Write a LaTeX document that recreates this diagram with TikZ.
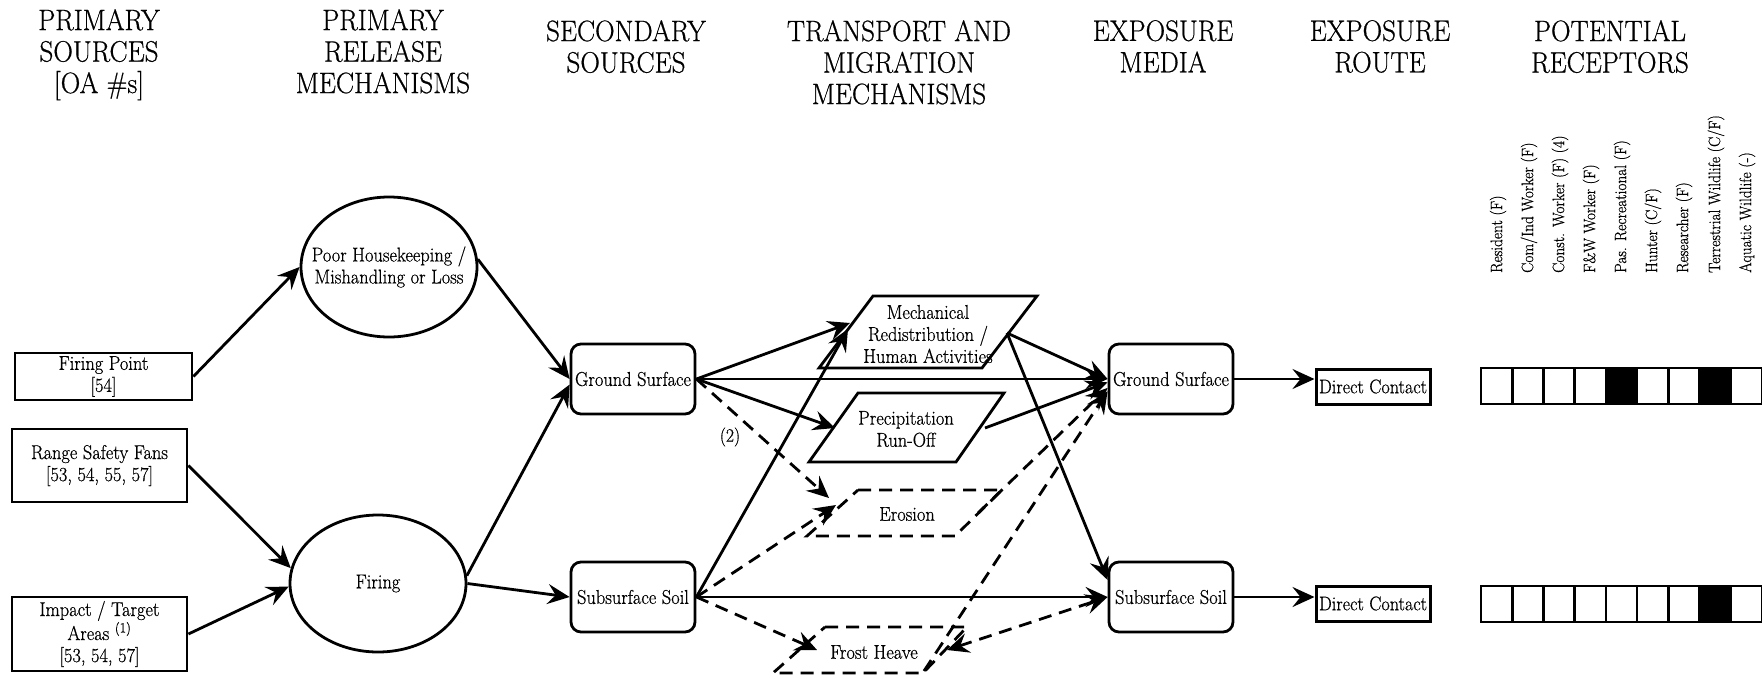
\documentclass[tikz,border=0pt]{standalone}
\usepackage{fontspec}
\setmainfont{Latin Modern Roman}[FakeStretch=0.92, FakeBold=0.6]
\usetikzlibrary{arrows.meta,shapes.geometric,calc}
\begin{document}
\begin{tikzpicture}[x=1pt,y=-1pt,
  lw/.style={line width=2.8pt},
  hdr/.style={font=\fontsize{29.5}{31.5}\selectfont, align=center, anchor=north, inner sep=0pt},
  txt/.style={font=\fontsize{20}{22}\selectfont, align=center, inner sep=0pt},
  srcbox/.style={draw, lw, txt},
  ell/.style={draw, lw, ellipse, inner sep=0pt},
  rbox/.style={draw, lw, txt, rounded corners=10pt, minimum width=124pt, minimum height=70pt},
  dcbox/.style={draw, line width=3pt, txt, font=\fontsize{19.7}{22}\selectfont, minimum width=114pt, minimum height=35pt},
  shp/.style={lw, line join=miter},
  dshp/.style={shp, dash pattern=on 13pt off 8pt},
  arr/.style={lw, -{Stealth[length=22pt,width=20pt,inset=8pt]}},
  darr/.style={arr, dash pattern=on 13pt off 8pt},
  cell/.style={draw, line width=2.6pt, minimum width=31.2pt, minimum height=36pt, inner sep=0pt},
  rlab/.style={font=\fontsize{16.6}{19}\selectfont, rotate=90, anchor=west, inner sep=0pt}
]
\useasboundingbox (0,0) rectangle (1762,678);

% headers
\node[hdr] (h1) at (99,9) {PRIMARY\\SOURCES\\{[OA \#s]}};
\node[hdr] (h2) at (383,9) {PRIMARY\\RELEASE\\MECHANISMS};
\node[hdr] (h3) at (626,20) {SECONDARY\\SOURCES};
\node[hdr] (h4) at (899,20) {TRANSPORT AND\\MIGRATION\\MECHANISMS};
\node[hdr] (h5) at (1163,20) {EXPOSURE\\MEDIA};
\node[hdr] (h6) at (1380,20) {EXPOSURE\\ROUTE};
\node[hdr] (h7) at (1610,20) {POTENTIAL\\RECEPTORS};

% primary sources
\node[srcbox, minimum width=177pt, minimum height=47pt] (fp) at (103.5,376.5) {Firing Point\\{[54]}};
\node[srcbox, minimum width=175pt, minimum height=73pt] (rsf) at (99.5,465.5) {Range Safety Fans\\{[53, 54, 55, 57]}};
\node[srcbox, minimum width=175pt, minimum height=74pt] (imp) at (99.5,634) {Impact / Target\\Areas \textsuperscript{(1)}\\{[53, 54, 57]}};

% release mechanisms
\node[ell, minimum width=176pt, minimum height=140pt] (ph) at (389,267) {};
\node[txt] (pht) at (ph) {Poor Housekeeping /\\Mishandling or Loss};
\node[ell, minimum width=176pt, minimum height=137pt] (fir) at (378,583.5) {};
\node[txt] (firt) at (fir) {Firing};

% secondary sources
\node[rbox] (gs) at (633,379) {Ground Surface};
\node[rbox] (ss) at (633,597) {Subsurface Soil};

% transport mechanisms
\draw[shp] (873,296) -- (1037,296) -- (982,368) -- (819,368) -- cycle;
\node[txt] (mech) at (928,334) {Mechanical\\Redistribution /\\Human Activities};
\draw[shp] (858,393) -- (1004,393) -- (956,462) -- (809,462) -- cycle;
\node[txt] (prec) at (906,429) {Precipitation\\Run-Off};
\draw[dshp] (858,490) -- (1002,490) -- (955,536) -- (807,536) -- cycle;
\node[txt] (ero) at (907,514) {Erosion};
\draw[dshp] (825,627) -- (967,627) -- (923,673) -- (773,673) -- cycle;
\node[txt] (fro) at (874,652) {Frost Heave};

\coordinate (mechL) at (850,323);
\coordinate (mechL2) at (848,329);
\coordinate (mechR) at (1007,333);
\coordinate (precL) at (835,428);
\coordinate (precR) at (985,428);
\coordinate (eroL1) at (829,498);
\coordinate (eroL2) at (836,505);
\coordinate (eroR) at (978,513);
\coordinate (froL) at (817,650);
\coordinate (froB) at (924,671);
\coordinate (froR) at (947,650);

% exposure media
\node[rbox] (egs) at (1171,379) {Ground Surface};
\node[rbox] (ess) at (1171,597) {Subsurface Soil};

% exposure route
\node[dcbox] (dc1) at (1373,386.5) {Direct Contact};
\node[dcbox] (dc2) at (1373,603.5) {Direct Contact};

% connectors
\draw[arr] (fp.east) -- (ph.west);
\draw[arr] (rsf.east) -- (fir.170);
\draw[arr] (imp.east) -- (fir.182);
\draw[arr] (ph.5) -- (gs.west);
\draw[arr] (fir.5) -- (gs.185);
\draw[arr] (fir.east) -- (ss.west);

\draw[arr] (gs.east) -- (mechL);
\draw[arr] (gs.east) -- (egs.west);
\draw[arr] (gs.east) -- (precL);
\draw[darr] (gs.east) -- (eroL1);
\node[txt, font=\fontsize{19}{20}\selectfont] (lab2) at (730,437) {(2)};
\draw[arr] (ss.east) -- (mechL2);
\draw[arr] (ss.east) -- (ess.west);
\draw[darr] (ss.east) -- (eroL2);
\draw[darr] (ss.east) -- (froL);

\draw[arr] (mechR) -- (egs.west);
\draw[arr] (mechR) -- (ess.165);
\draw[arr] (precR) -- (egs.183);
\draw[darr] (eroR) -- (egs.188);
\draw[darr] (froB) -- (egs.191);
\draw[darr, {Stealth[length=22pt,width=20pt,inset=8pt]}-{Stealth[length=22pt,width=20pt,inset=8pt]}] (froR) -- (ess.west);

\draw[arr] (egs.east) -- (egs.east -| dc1.west);
\draw[arr] (ess.east) -- (ess.east -| dc2.west);

% receptors
\foreach \i in {0,...,8} {
  \node[cell] (ra\i) at ({1496.6+31.2*\i},386) {};
  \node[cell] (rb\i) at ({1496.6+31.2*\i},604) {};
}
\node[cell, fill=black] at (ra4) {};
\node[cell, fill=black] at (ra7) {};
\node[cell, fill=black] at (rb7) {};

\node[rlab] (l0) at (1498,273) {Resident (F)};
\node[rlab] (l1) at (1529,273) {Com/Ind Worker (F)};
\node[rlab] (l2) at (1560,273) {Const. Worker (F) (4)};
\node[rlab] (l3) at (1591,273) {F\&W Worker (F)};
\node[rlab] (l4) at (1622,273) {Pas. Recreational (F)};
\node[rlab] (l5) at (1653,273) {Hunter (C/F)};
\node[rlab] (l6) at (1684,273) {Researcher (F)};
\node[rlab] (l7) at (1716,273) {Terrestrial Wildlife (C/F)};
\node[rlab] (l8) at (1747,273) {Aquatic Wildlife (-)};
\end{tikzpicture}
\end{document}
